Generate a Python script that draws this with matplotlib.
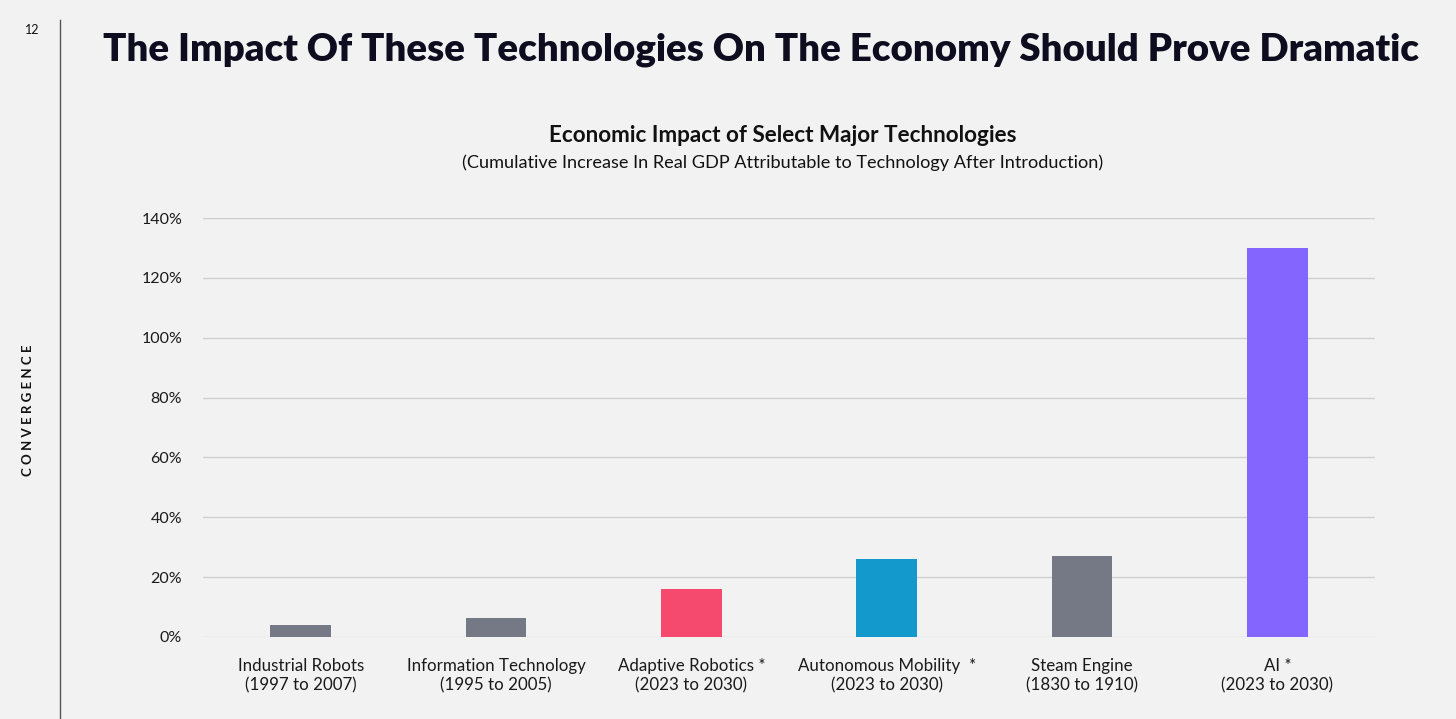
import matplotlib.pyplot as plt
import numpy as np

# Data
technologies = ['Industrial Robots\n(1997 to 2007)',
                'Information Technology\n(1995 to 2005)',
                'Adaptive Robotics *\n(2023 to 2030)',
                'Autonomous Mobility  *\n(2023 to 2030)',
                'Steam Engine\n(1830 to 1910)',
                'AI *\n(2023 to 2030)']
gdp_increase = [4, 6.3, 16, 26, 27, 130]
bar_colors = ['#757986', '#757986', '#F5496E', '#1499CC', '#757986', '#8466FF']
y_ticks = [0, 20, 40, 60, 80, 100, 120, 140]

plt.rcParams['font.family'] = ['Lato', 'DejaVu Sans']
bg = '#F2F2F2'

fig = plt.figure(figsize=(14.56, 7.19), dpi=100, facecolor=bg)
W, H = 1456, 719
ax = fig.add_axes([203 / W, 1 - 637 / H, (1375 - 203) / W, (637 - 218) / H])
ax.set_facecolor(bg)

x = np.arange(len(technologies))
ax.bar(x, gdp_increase, width=0.31, color=bar_colors, zorder=3)

ax.set_xlim(-0.5, len(technologies) - 0.5)
ax.set_ylim(0, 140)
ax.set_yticks(y_ticks)
ax.set_yticklabels([f'{v}%' for v in y_ticks], fontsize=11.5, color='#1a1a1a')
ax.set_xticks(x)
ax.set_xticklabels(technologies, fontsize=12.2, color='#1a1a1a', linespacing=1.25)
ax.tick_params(axis='both', length=0)
ax.tick_params(axis='y', pad=15)
ax.tick_params(axis='x', pad=15)
ax.yaxis.grid(True, color='#CFCFCF', linewidth=1, zorder=0)
for s in ax.spines.values():
    s.set_visible(False)

# Headline and chart titles
fig.text(761 / W, 1 - 50 / H,
         'The Impact Of These Technologies On The Economy Should Prove Dramatic',
         ha='center', va='center', fontsize=27.6, fontweight='heavy', color='#0D0D1F')
fig.text(783 / W, 1 - 136 / H, 'Economic Impact of Select Major Technologies',
         ha='center', va='center', fontsize=16.2, fontweight='bold', color='#111111')
fig.text(783 / W, 1 - 163 / H,
         '(Cumulative Increase In Real GDP Attributable to Technology After Introduction)',
         ha='center', va='center', fontsize=13.1, color='#111111')

# Side margin decoration
fig.add_artist(plt.Line2D([60 / W, 60 / W], [0, 1 - 20 / H], color='#555555',
                          linewidth=1, transform=fig.transFigure))
fig.text(32 / W, 1 - 30 / H, '12', ha='center', va='center', fontsize=9, color='#111111')
fig.text(28 / W, 1 - 410 / H, 'C O N V E R G E N C E', ha='center', va='center', rotation=90,
         fontsize=9.5, fontweight='bold', color='#111111')

plt.savefig('out.png', dpi=100, facecolor=bg)
